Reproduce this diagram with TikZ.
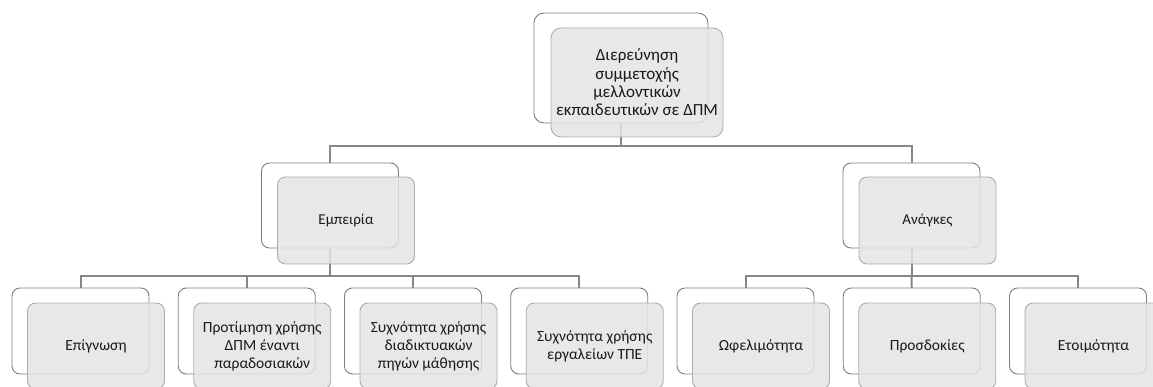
\documentclass[tikz,border=0pt]{standalone}
\usepackage{fontspec}
\setmainfont{Carlito}
\definecolor{frontfill}{RGB}{228,228,228}
\definecolor{frontdraw}{RGB}{165,165,165}
\definecolor{backdraw}{RGB}{125,125,125}
\definecolor{conncol}{RGB}{135,135,135}
\definecolor{txt}{RGB}{25,25,25}
\begin{document}
\begin{tikzpicture}[x=1pt,y=-1pt,
  backbox/.style={draw=backdraw,fill=white,line width=0.9pt,rounded corners=8pt,
    minimum width=137pt,minimum height=86pt,inner sep=0pt,outer sep=0pt},
  frontbox/.style={draw=frontdraw,fill=frontfill,fill opacity=0.85,draw opacity=0.9,text opacity=1,
    line width=0.9pt,rounded corners=8pt,minimum width=137pt,minimum height=86pt,
    inner sep=2pt,outer sep=0pt,align=center,text=txt,
    font=\fontsize{15.5}{18}\selectfont},
  conn/.style={draw=conncol,line width=2pt}]
\useasboundingbox (0,0) rectangle (1153,387);
% back boxes
\node[backbox,minimum width=174pt,minimum height=110pt,rounded corners=10pt] (t) at (621,68) {};
\node[backbox,minimum height=85pt] (e) at (330,205.5) {};
\node[backbox,minimum height=85pt] (a) at (911.5,205.5) {};
\node[backbox] (b1) at (80.5,331) {};
\node[backbox] (b2) at (246.75,331) {};
\node[backbox] (b3) at (413,331) {};
\node[backbox] (b4) at (579.25,331) {};
\node[backbox] (b5) at (745.5,331) {};
\node[backbox] (b6) at (911.75,331) {};
\node[backbox] (b7) at (1078,331) {};
% connectors
\draw[conn] (t.south) -- ++(0,23) coordinate (tj);
\draw[conn] (e.north) |- (tj) -| (a.north);
\draw[conn] (e.south) -- ++(0,27.5) coordinate (ej);
\draw[conn] (b1.north) |- (ej) -| (b4.north);
\draw[conn] (b2.north) -- (b2.north |- ej);
\draw[conn] (b3.north) -- (b3.north |- ej);
\draw[conn] (a.south) -- ++(0,27.5) coordinate (aj);
\draw[conn] (b5.north) |- (aj) -| (b7.north);
\draw[conn] (b6.north) -- (aj);
% front boxes
\node[frontbox,minimum width=172pt,minimum height=109pt,rounded corners=10pt,
  font=\fontsize{17}{18.3}\selectfont] (tf) at ([shift={(16,14.5)}]t.center) {Διερεύνηση\\συμμετοχής\\μελλοντικών\\εκπαιδευτικών σε ΔΠΜ};
\node[frontbox,minimum height=87pt,font=\fontsize{15}{18}\selectfont] (ef) at ([shift={(16,15)}]e.center) {Εμπειρία};
\node[frontbox,minimum height=87pt,font=\fontsize{15}{18}\selectfont] (af) at ([shift={(16,15)}]a.center) {Ανάγκες};
\node[frontbox] (b1f) at ([shift={(15.5,15)}]b1.center) {Επίγνωση};
\node[frontbox] (b2f) at ([shift={(15.5,15)}]b2.center) {Προτίμηση χρήσης\\ΔΠΜ έναντι\\παραδοσιακών};
\node[frontbox] (b3f) at ([shift={(15.5,15)}]b3.center) {Συχνότητα χρήσης\\διαδικτυακών\\πηγών μάθησης};
\node[frontbox] (b4f) at ([shift={(15.5,15)}]b4.center) {Συχνότητα χρήσης\\εργαλείων ΤΠΕ};
\node[frontbox] (b5f) at ([shift={(15.5,15)}]b5.center) {Ωφελιμότητα};
\node[frontbox] (b6f) at ([shift={(15.5,15)}]b6.center) {Προσδοκίες};
\node[frontbox] (b7f) at ([shift={(15.5,15)}]b7.center) {Ετοιμότητα};
\end{tikzpicture}
\end{document}
